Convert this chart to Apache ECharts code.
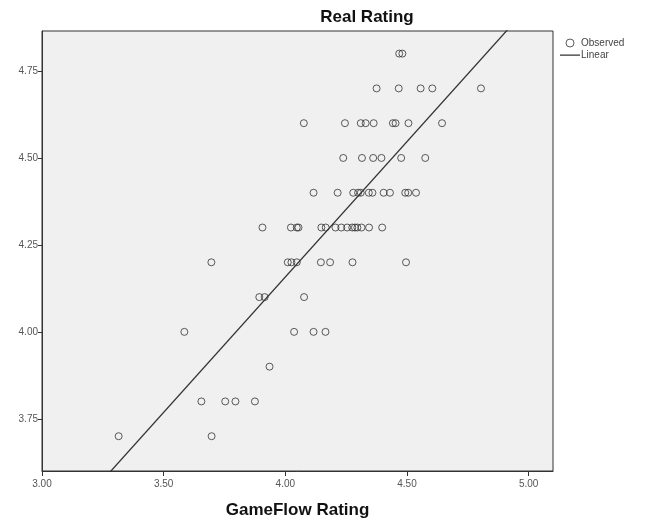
<!DOCTYPE html>
<html>
<head>
<meta charset="utf-8">
<script src="https://cdn.jsdelivr.net/npm/echarts@6/dist/echarts.min.js"></script>
<style>html,body{margin:0;padding:0;background:#fff}#c{width:649px;height:524px}</style>
</head>
<body>
<div id="c"></div>
<script>
// GameFlow Rating (x) for each Real Rating level (y)
const yLevels = [3.7, 3.8, 3.9, 4.0, 4.1, 4.2, 4.3, 4.4, 4.5, 4.6, 4.7, 4.8];
const xAt37 = [3.315, 3.697];
const xAt38 = [3.655, 3.753, 3.795, 3.875];
const xAt39 = [3.935];
const xAt40 = [3.585, 4.036, 4.116, 4.165];
const xAt41 = [3.893, 3.915, 4.077];
const xAt42 = [3.696, 4.010, 4.025, 4.047, 4.146, 4.184, 4.276, 4.496];
const xAt43 = [3.906, 4.023, 4.047, 4.054, 4.148, 4.166, 4.206, 4.230, 4.254, 4.275, 4.286, 4.296, 4.313, 4.344, 4.398];
const xAt44 = [4.116, 4.215, 4.279, 4.299, 4.310, 4.343, 4.358, 4.404, 4.430, 4.493, 4.505, 4.537];
const xAt45 = [4.238, 4.315, 4.361, 4.395, 4.476, 4.575];
const xAt46 = [4.076, 4.245, 4.310, 4.330, 4.363, 4.442, 4.453, 4.506, 4.644];
const xAt47 = [4.375, 4.466, 4.556, 4.604, 4.804];
const xAt48 = [4.468, 4.481];
const xByLevel = [xAt37, xAt38, xAt39, xAt40, xAt41, xAt42, xAt43, xAt44, xAt45, xAt46, xAt47, xAt48];

const xTicks = [3.0, 3.5, 4.0, 4.5, 5.0];
const yTicks = [3.75, 4.0, 4.25, 4.5, 4.75];
const titleText = 'Real Rating';
const xName = 'GameFlow Rating';
const seriesNames = ['Observed', 'Linear'];

const observed = [];
xByLevel.forEach((xs, i) => xs.forEach(x => observed.push([x, yLevels[i]])));

// least squares fit (Linear)
const n = observed.length;
let sx = 0, sy = 0, sxx = 0, sxy = 0;
observed.forEach(([x, y]) => { sx += x; sy += y; sxx += x * x; sxy += x * y; });
const slope = (n * sxy - sx * sy) / (n * sxx - sx * sx);
const intercept = (sy - slope * sx) / n;
const xMin = 3.0, xMax = 5.1, yMin = 3.6, yMax = 4.865;
const fitLine = [[xMin, intercept + slope * xMin], [xMax, intercept + slope * xMax]];

const chart = echarts.init(document.getElementById('c'), null, {renderer: 'canvas'});
const fmt = v => Number(v).toFixed(2);
const lineIcon = 'path://M0,0h0.01v0.01h-0.01z M0,3.4h20v1.3h-20z M0,8h0.01v-0.01h-0.01z';
chart.setOption({
  backgroundColor: '#ffffff',
  animation: false,
  textStyle: {fontFamily: 'Liberation Sans, Arial, sans-serif'},
  graphic: [{
    type: 'text', x: 367, y: 17,
    style: {text: titleText, align: 'center', verticalAlign: 'middle', font: 'bold 17px "Liberation Sans", Arial, sans-serif', fill: '#111'}
  }],
  legend: {
    orient: 'vertical', left: 555, top: 33, itemGap: 2, itemWidth: 20, itemHeight: 8,
    textStyle: {fontSize: 10, color: '#444', padding: [0, 0, 0, -4]},
    data: [
      {name: seriesNames[0], icon: 'circle', itemStyle: {color: 'rgba(0,0,0,0)', borderColor: '#333', borderWidth: 1}},
      {name: seriesNames[1], icon: lineIcon, itemStyle: {color: '#333', borderWidth: 0}}
    ]
  },
  grid: {left: 42, top: 31, right: 96, bottom: 52, show: true, backgroundColor: '#f0f0f0', borderColor: '#333', borderWidth: 1, containLabel: false},
  xAxis: {
    type: 'value', min: xMin, max: xMax,
    name: xName, nameLocation: 'middle', nameGap: 31,
    nameTextStyle: {fontWeight: 'bold', fontSize: 17, color: '#111'},
    axisLine: {show: true, lineStyle: {color: '#333'}},
    axisTick: {show: true, length: 5, customValues: xTicks, lineStyle: {color: '#333'}},
    axisLabel: {customValues: xTicks, formatter: fmt, fontSize: 10, color: '#555', margin: 8},
    splitLine: {show: false}
  },
  yAxis: {
    type: 'value', min: yMin, max: yMax,
    axisLine: {show: true, lineStyle: {color: '#333'}},
    axisTick: {show: true, length: 4, customValues: yTicks, lineStyle: {color: '#333'}},
    axisLabel: {customValues: yTicks, formatter: fmt, fontSize: 10, color: '#555', margin: 4},
    splitLine: {show: false}
  },
  series: [
    {
      name: seriesNames[0], type: 'scatter', symbol: 'circle', symbolSize: 7,
      itemStyle: {color: 'rgba(0,0,0,0)', borderColor: '#333', borderWidth: 1},
      data: observed
    },
    {
      name: seriesNames[1], type: 'line', symbol: 'none', clip: true,
      lineStyle: {color: '#333', width: 1.3},
      itemStyle: {color: '#333'},
      data: fitLine
    }
  ]
});
</script>
</body>
</html>
